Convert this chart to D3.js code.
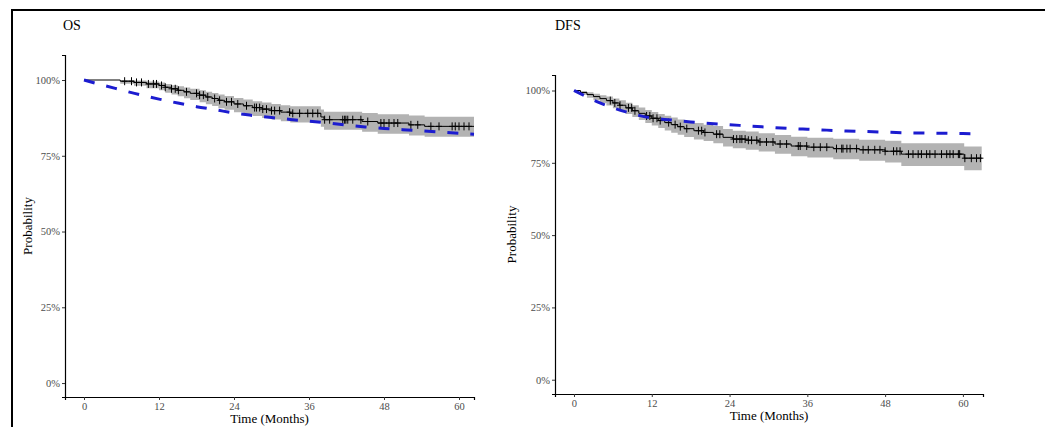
<!DOCTYPE html>
<html>
<head>
<meta charset="utf-8">
<script src="https://cdn.jsdelivr.net/npm/d3@7"></script>
<style>
    body { margin: 0; background: #fff; }
    text { font-family: "Liberation Serif", "DejaVu Serif", serif; }
</style>
</head>
<body>
<div id="chart"></div>
<script>
// ---- data ----
let xTicks = [0, 12, 24, 36, 48, 60];
let yTicks = [0, 0.25, 0.5, 0.75, 1];

// OS: Kaplan-Meier steps (months, %)
let osTime  = [0, 5.8, 8, 10, 12, 13, 14, 15, 16, 17, 18.5, 19.5, 20.5, 21.5, 22.5, 24, 25.5, 27, 28.5, 30, 31.5, 33, 37.9, 38.4, 44.5, 47, 52, 54.5, 62.4];
let osSurv  = [100, 99.6, 99.2, 98.7, 98.2, 97.6, 97.1, 96.6, 96.1, 95.6, 95.0, 94.4, 93.9, 93.3, 92.8, 92.1, 91.5, 90.9, 90.4, 89.9, 89.4, 89.0, 87.8, 86.9, 86.3, 85.8, 85.2, 84.7, 84.7];
let osUpper = [100, 100, 99.8, 99.5, 99.2, 98.7, 98.3, 97.9, 97.5, 97.1, 96.6, 96.1, 95.7, 95.2, 94.7, 94.1, 93.6, 93.0, 92.6, 92.1, 91.7, 91.3, 90.3, 89.5, 89.1, 88.7, 88.3, 87.9, 87.9];
let osLower = [100, 98.8, 98.1, 97.3, 96.6, 95.8, 95.2, 94.6, 94.0, 93.4, 92.7, 92.0, 91.4, 90.7, 90.2, 89.4, 88.7, 88.1, 87.5, 87.0, 86.4, 86.0, 84.6, 83.6, 82.9, 82.3, 81.7, 81.3, 81.3];
let osCensor = [6.5, 7.6, 8.4, 9.2, 10.3, 11.1, 11.6, 12.4, 13, 14, 14.6, 15.1, 16.4, 18, 18.5, 19.1, 19.8, 20.9, 21.7, 22.8, 23.6, 24.6, 26, 27.3, 27.6, 28.1, 28.6, 29.2, 30, 30.5, 31.3, 32.9, 33.4, 34.5, 35.8, 36.6, 37.4, 38.5, 39.3, 41.4, 41.7, 41.9, 42.2, 43, 44.3, 45.4, 47.5, 48, 48.8, 49.6, 50.2, 52.3, 53.4, 55.5, 56.8, 58.9, 59.4, 60, 60.8, 61.6];
// OS: expected survival (blue dashed)
let osExpTime = [0, 3, 6, 9, 12, 15, 18, 21, 24, 27, 30, 33, 36, 39, 42, 45, 48, 51, 54, 57, 60, 62.4];
let osExpSurv = [100, 98.3, 96.7, 95.1, 93.7, 92.4, 91.2, 90.2, 89.1, 88.3, 87.6, 87.0, 86.4, 85.8, 85.1, 84.5, 84.0, 83.6, 83.2, 82.8, 82.4, 82.1];

// DFS: Kaplan-Meier steps (months, %)
let dfsTime  = [0, 1, 2, 3, 4, 5, 6, 7, 8, 9, 10, 11, 12, 13, 14, 15, 16, 17, 18.5, 20, 21.5, 23, 24.5, 26.5, 28.5, 31, 33.5, 36, 40, 44, 48, 50.5, 60.2, 62.9];
let dfsSurv  = [100, 99.3, 98.6, 97.9, 97.2, 96.5, 95.7, 94.9, 94.0, 93.0, 92.1, 91.2, 90.4, 89.6, 88.9, 88.2, 87.5, 86.8, 86.1, 85.5, 84.9, 83.8, 83.2, 82.8, 82.2, 81.5, 80.8, 80.4, 79.9, 79.5, 79.0, 78.0, 76.6, 76.6];
let dfsUpper = [100, 99.8, 99.4, 98.9, 98.4, 97.9, 97.2, 96.6, 95.8, 94.9, 94.1, 93.3, 92.6, 91.9, 91.3, 90.7, 90.0, 89.4, 88.8, 88.2, 87.7, 86.7, 86.1, 85.8, 85.2, 84.6, 84.0, 83.7, 83.3, 83.0, 82.6, 81.8, 80.6, 80.6];
let dfsLower = [100, 98.5, 97.5, 96.6, 95.7, 94.8, 93.9, 92.9, 91.9, 90.8, 89.8, 88.8, 87.9, 87.0, 86.2, 85.4, 84.7, 83.9, 83.1, 82.5, 81.8, 80.6, 80.0, 79.5, 78.9, 78.1, 77.3, 76.8, 76.2, 75.7, 75.1, 73.9, 72.4, 72.4];
let dfsCensor = [5.6, 6.3, 7.1, 8.4, 8.9, 9.4, 11.2, 11.7, 12.2, 12.8, 13.3, 14.6, 15.6, 16.4, 17.4, 19.2, 19.7, 20.2, 22.0, 22.5, 24.6, 25.1, 25.6, 25.9, 26.4, 26.9, 27.4, 28.2, 28.7, 29.7, 30.7, 31.8, 32.8, 34.6, 34.9, 35.9, 37.0, 38.0, 39.0, 40.5, 41.3, 41.5, 42.1, 42.6, 43.6, 44.6, 45.4, 46.4, 47.2, 48.0, 49.3, 49.8, 50.3, 51.6, 52.3, 53.1, 53.6, 54.4, 54.9, 55.7, 56.7, 57.5, 58.0, 58.5, 59.3, 59.5, 60.3, 61.3, 62.1, 62.7];
// DFS: expected survival (blue dashed)
let dfsExpTime = [0, 2, 4, 6, 8, 10, 12, 15, 18, 21, 24, 27, 30, 33, 36, 39, 42, 45, 48, 51, 54, 57, 60, 62.9];
let dfsExpSurv = [100, 97.8, 95.7, 94.0, 92.6, 91.4, 90.5, 89.8, 89.1, 88.6, 88.2, 87.7, 87.3, 86.9, 86.6, 86.3, 86.0, 85.8, 85.6, 85.4, 85.3, 85.2, 85.1, 85.0];

let svg = d3.select("#chart").append("svg")
    .attr("width", 1045)
    .attr("height", 427);

svg.append("rect").attr("width", 1045).attr("height", 427).attr("fill", "#fff");

// outer frame (only top and left edges visible)
svg.append("rect")
    .attr("x", 12).attr("y", 10)
    .attr("width", 1060).attr("height", 440)
    .attr("fill", "none")
    .attr("stroke", "#000")
    .attr("stroke-width", 2);

function drawPanel(cfg) {
    let g = svg.append("g");
    let x = d3.scaleLinear().domain(cfg.xDom).range([cfg.left, cfg.right]);
    let y = d3.scaleLinear().domain(cfg.yDom).range([cfg.bottom, cfg.top]);

    // confidence band
    let band = cfg.time.map(function (t, i) {
        return {t: t, lo: cfg.lower[i], hi: cfg.upper[i]};
    });
    g.append("path")
        .datum(band)
        .attr("fill", "#b3b3b3")
        .attr("d", d3.area().curve(d3.curveStepAfter)
            .x(function (d) { return x(d.t); })
            .y0(function (d) { return y(d.lo / 100); })
            .y1(function (d) { return y(d.hi / 100); }));

    // KM step line
    let km = cfg.time.map(function (t, i) { return {t: t, s: cfg.surv[i]}; });
    g.append("path")
        .datum(km)
        .attr("fill", "none")
        .attr("stroke", "#000")
        .attr("stroke-width", 1)
        .attr("d", d3.line().curve(d3.curveStepAfter)
            .x(function (d) { return x(d.t); })
            .y(function (d) { return y(d.s / 100); }));

    // censor marks "+"
    function survAt(t) {
        let s = cfg.surv[0];
        for (let i = 0; i < cfg.time.length; ++i) {
            if (cfg.time[i] <= t) s = cfg.surv[i];
        }
        return s;
    }
    let marks = g.append("g").attr("stroke", "#000").attr("stroke-width", 1);
    cfg.censor.forEach(function (t) {
        let cx = x(t), cy = y(survAt(t) / 100);
        marks.append("line").attr("x1", cx).attr("x2", cx).attr("y1", cy - 4).attr("y2", cy + 4);
        marks.append("line").attr("x1", cx - 3).attr("x2", cx + 3).attr("y1", cy).attr("y2", cy);
    });

    // expected survival
    let exp = cfg.expTime.map(function (t, i) { return {t: t, s: cfg.expSurv[i]}; });
    g.append("path")
        .datum(exp)
        .attr("fill", "none")
        .attr("stroke", "#1c1cd0")
        .attr("stroke-width", 3)
        .attr("stroke-dasharray", "11,12")
        .attr("d", d3.line().curve(d3.curveMonotoneX)
            .x(function (d) { return x(d.t); })
            .y(function (d) { return y(d.s / 100); }));

    // axes
    let xAxis = g.append("g")
        .attr("transform", "translate(0," + cfg.bottom + ")")
        .call(d3.axisBottom(x).tickValues(xTicks).tickSizeOuter(0).tickSize(3).tickPadding(3));
    let yAxis = g.append("g")
        .attr("transform", "translate(" + cfg.left + ",0)")
        .call(d3.axisLeft(y).tickValues(yTicks).tickSizeOuter(0).tickSize(3).tickPadding(2)
            .tickFormat(d3.format(".0%")));
    [xAxis, yAxis].forEach(function (a) {
        a.select(".domain").attr("stroke", "#000").attr("stroke-width", 1.2);
        a.selectAll(".tick line").attr("stroke", "#333");
        a.selectAll(".tick text")
            .attr("fill", "#4d4d4d")
            .style("font-family", "Liberation Serif")
            .style("font-size", "10.5px");
    });

    // titles
    g.append("text")
        .attr("x", (cfg.left + cfg.right) / 2)
        .attr("y", cfg.bottom + 26)
        .attr("text-anchor", "middle")
        .style("font-size", "13px")
        .text("Time (Months)");
    g.append("text")
        .attr("transform", "translate(" + cfg.ylabX + "," + ((cfg.top + cfg.bottom) / 2) + ") rotate(-90)")
        .attr("text-anchor", "middle")
        .style("font-size", "13px")
        .text("Probability");
    g.append("text")
        .attr("x", cfg.titleX)
        .attr("y", 30)
        .style("font-size", "14px")
        .text(cfg.title);
}

drawPanel({
    title: "OS", titleX: 63, ylabX: 32,
    left: 65, right: 474, top: 55, bottom: 397,
    xDom: [-3.04, 62.4], yDom: [-0.046, 1.0825],
    time: osTime, surv: osSurv, upper: osUpper, lower: osLower,
    censor: osCensor, expTime: osExpTime, expSurv: osExpSurv
});

drawPanel({
    title: "DFS", titleX: 555, ylabX: 516,
    left: 555, right: 983, top: 75, bottom: 394,
    xDom: [-2.93, 63.1], yDom: [-0.0494, 1.0536],
    time: dfsTime, surv: dfsSurv, upper: dfsUpper, lower: dfsLower,
    censor: dfsCensor, expTime: dfsExpTime, expSurv: dfsExpSurv
});
</script>
</body>
</html>
